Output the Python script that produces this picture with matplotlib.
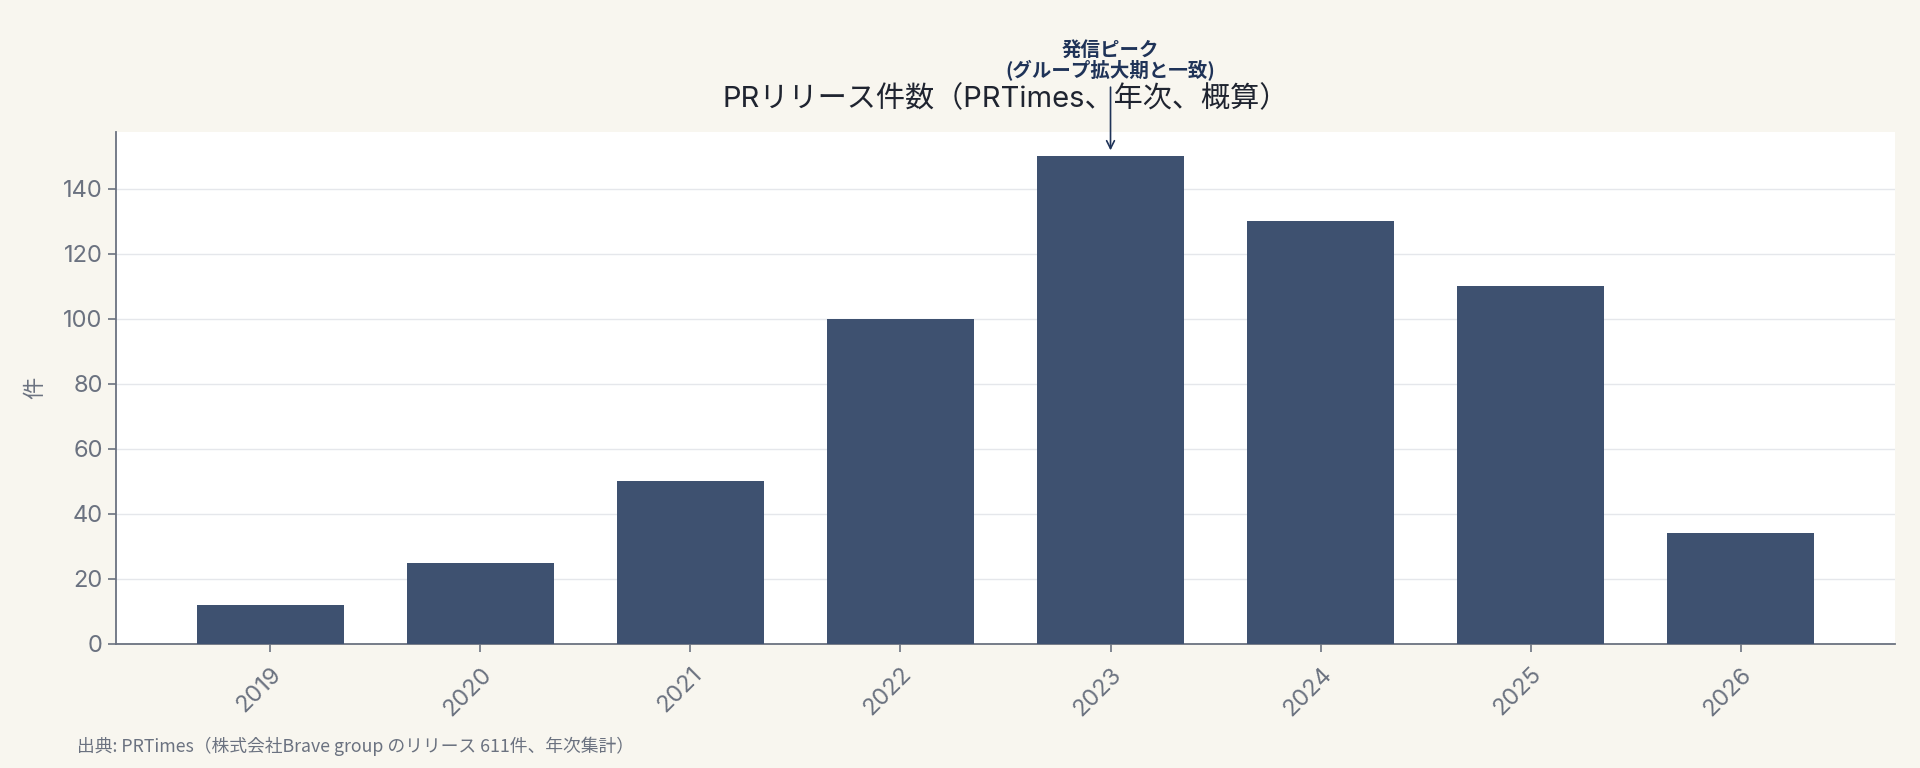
import matplotlib.pyplot as plt

plt.rcParams['font.family'] = ['Noto Sans CJK JP', 'DejaVu Sans']

years = ['2019', '2020', '2021', '2022', '2023', '2024', '2025', '2026']
releases = [12, 25, 50, 100, 150, 130, 110, 34]

bg = '#f8f6ef'
bar_color = '#3e5170'
gray = '#6b7280'
navy = '#1f3358'
wide = ['Inter', 'Noto Sans CJK JP']

fig = plt.figure(figsize=(19.2, 7.68), dpi=100, facecolor=bg)
ax = fig.add_axes([116 / 1920, 1 - 644 / 768, (1895 - 116) / 1920, (644 - 132) / 768])
ax.set_facecolor('white')

x = list(range(len(years)))
ax.bar(x, releases, width=0.7, color=bar_color, zorder=3)

ax.set_xticks(x)
ax.set_xticklabels(years, rotation=45, ha='right', rotation_mode='anchor')
ax.set_ylim(0, 157.5)
ax.set_yticks(range(0, 141, 20))
ax.tick_params(axis='both', colors=gray, labelsize=17, length=6, width=1.2)
ax.tick_params(axis='x', pad=8)
for lab in ax.get_xticklabels() + ax.get_yticklabels():
    lab.set_family(wide)

for s in ['top', 'right']:
    ax.spines[s].set_visible(False)
for s in ['left', 'bottom']:
    ax.spines[s].set_color(gray)
    ax.spines[s].set_linewidth(1.3)

ax.yaxis.grid(True, color='#e5e7eb', linewidth=1, zorder=0)
ax.set_axisbelow(True)

ax.set_ylabel('件', color=gray, fontsize=16, labelpad=12)
ax.set_title('PRリリース件数（PRTimes、年次、概算）', fontsize=21, color='#1f2430', pad=18,
             family=wide)

peak = releases.index(max(releases))
ax.annotate('発信ピーク\n(グループ拡大期と一致)', xy=(peak, max(releases) + 1), xytext=(peak, 173),
            textcoords='data', ha='center', va='bottom', fontsize=14, fontweight='bold',
            color=navy, linespacing=1.05, annotation_clip=False,
            arrowprops=dict(arrowstyle='->', color=navy, lw=1.2))

fig.text(77 / 1920, 1 - 746 / 768, '出典: PRTimes（株式会社Brave group のリリース 611件、年次集計）',
         fontsize=12.8, color=gray, va='center', ha='left')

fig.savefig('out.png', dpi=100, facecolor=bg)
